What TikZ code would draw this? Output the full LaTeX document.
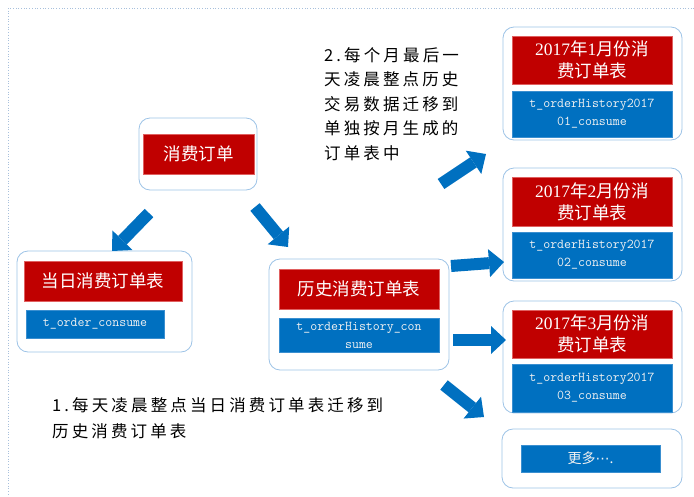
\documentclass[tikz,border=0pt]{standalone}
\usepackage{fontspec}
\usetikzlibrary{arrows.meta}
\newfontfamily\cjk{Noto Sans CJK SC}
\newfontfamily\cjksp[LetterSpace=19]{Noto Sans CJK SC}
\newfontfamily\monof{Latin Modern Mono}
\newfontfamily\digf{Liberation Serif}
\newfontfamily\dejavu{DejaVu Sans}
\newcommand\dig[1]{{\digf #1}}
\definecolor{tred}{HTML}{C00000}
\definecolor{tredl}{HTML}{E06060}
\definecolor{tblue}{HTML}{0070C0}
\definecolor{tbluel}{HTML}{3A8FD0}
\definecolor{cbd}{HTML}{9DC3E6}
\definecolor{framec}{HTML}{A8C0DC}
\definecolor{btext}{HTML}{F2F2F2}
\tikzset{
  container/.style={draw=cbd, line width=0.8pt, rounded corners=11pt, inner sep=0pt},
  redbox/.style={fill=tred, draw=tredl, line width=0.6pt, text=white, inner sep=0pt, align=center,
    font=\cjk\fontsize{17.5}{22}\selectfont},
  bluebox/.style={fill=tblue, draw=tbluel, line width=0.6pt, text=btext, inner sep=0pt, align=center,
    font=\monof\fontsize{13.5}{18}\selectfont},
  bigarrow/.style={draw=tblue, line width=12pt, -{Triangle[length=15pt,width=28pt,line width=0pt]}},
  note/.style={align=left, inner sep=0pt, text=black}
}
\begin{document}
\begin{tikzpicture}[x=1pt,y=-1pt]
\useasboundingbox (0,0) rectangle (694,496);
\draw[framec, dotted, line width=0.7pt] (694,8) -- (8,8) -- (8,496);

% top node
\node[container, minimum width=118pt, minimum height=72pt] (c0) at (198,154) {};
\node[redbox, minimum width=111pt, minimum height=40pt] (r0) at (198.5,154) {消费订单};

% left table
\node[container, minimum width=175pt, minimum height=101pt] (c1) at (104.5,301.5) {};
\node[redbox, minimum width=158pt, minimum height=40pt] (r1) at (103,281) {当日消费订单表};
\node[bluebox, minimum width=138pt, minimum height=28pt] (b1) at (95,324) {t\_order\_consume};

% history table
\node[container, minimum width=180pt, minimum height=111pt] (c2) at (359,314.5) {};
\node[redbox, minimum width=160pt, minimum height=40pt] (r2) at (359,289) {历史消费订单表};
\node[bluebox, minimum width=160pt, minimum height=34pt] (b2) at (359,335) {t\_orderHistory\_con\\sume};

% monthly tables
\node[container, minimum width=179pt, minimum height=113pt] (c3) at (592.5,83.5) {};
\node[redbox, minimum width=160pt, minimum height=48pt] (r3) at (592,60) {\dig{2017}年\dig{1}月份消\\费订单表};
\node[bluebox, minimum width=160pt, minimum height=46pt] (b3) at (592,114) {t\_orderHistory2017\\01\_consume};

\node[container, minimum width=179pt, minimum height=113pt] (c4) at (592.5,224.5) {};
\node[redbox, minimum width=160pt, minimum height=49pt] (r4) at (592,201.5) {\dig{2017}年\dig{2}月份消\\费订单表};
\node[bluebox, minimum width=160pt, minimum height=46pt] (b4) at (592,255) {t\_orderHistory2017\\02\_consume};

\node[container, minimum width=179pt, minimum height=112pt] (c5) at (592.5,357) {};
\node[redbox, minimum width=160pt, minimum height=48pt] (r5) at (592,334) {\dig{2017}年\dig{3}月份消\\费订单表};
\node[bluebox, minimum width=160pt, minimum height=48pt] (b5) at (592,388) {t\_orderHistory2017\\03\_consume};

\node[container, minimum width=180pt, minimum height=59pt] (c6) at (592,458.5) {};
\node[bluebox, minimum width=139pt, minimum height=27pt, font=\cjk\fontsize{14}{16}\selectfont] (b6) at (590.5,458.5) {更多{\dejavu ⋯}.};

% notes
\node[note, anchor=north west, font=\cjksp\fontsize{16.5}{26}\selectfont] (n1) at (52,397) {1.每天凌晨整点当日消费订单表迁移到\\历史消费订单表};
\node[note, anchor=north west, font=\cjksp\fontsize{16.5}{24.5}\selectfont] (n2) at (324,47) {2.每个月最后一\\天凌晨整点历史\\交易数据迁移到\\单独按月生成的\\订单表中};

% arrows
\coordinate (a1s) at (149,213); \coordinate (a1e) at (112,251);
\coordinate (a2s) at (255,207); \coordinate (a2e) at (288,247);
\coordinate (a3s) at (441,184); \coordinate (a3e) at (486,154);
\coordinate (a4s) at (451,266); \coordinate (a4e) at (504,262);
\coordinate (a5s) at (453,340); \coordinate (a5e) at (506,340);
\coordinate (a6s) at (444,385); \coordinate (a6e) at (484,417);
\draw[bigarrow] (a1s) -- (a1e);
\draw[bigarrow] (a2s) -- (a2e);
\draw[bigarrow] (a3s) -- (a3e);
\draw[bigarrow] (a4s) -- (a4e);
\draw[bigarrow] (a5s) -- (a5e);
\draw[bigarrow] (a6s) -- (a6e);
\end{tikzpicture}
\end{document}
